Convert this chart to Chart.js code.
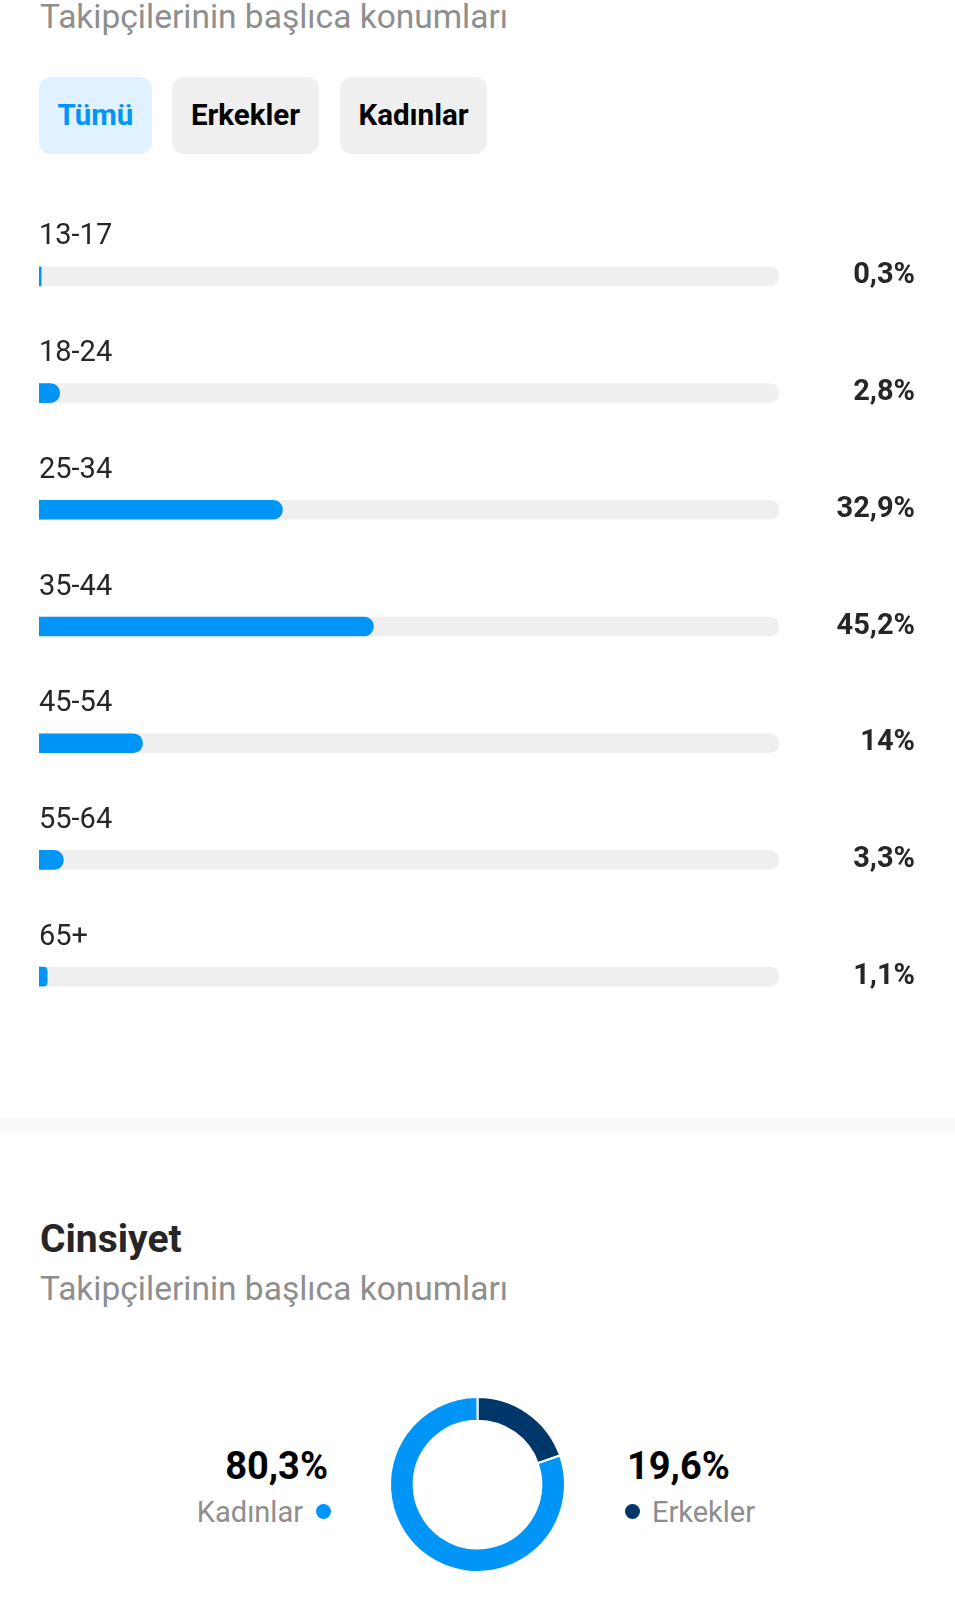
<!DOCTYPE html>
<html>
<head>
<meta charset="utf-8">
<script src="https://cdn.jsdelivr.net/npm/chart.js@4/dist/chart.umd.min.js"></script>
<style>
  html, body { margin: 0; padding: 0; background: #fff; }
  body { width: 955px; height: 1600px; position: relative; overflow: hidden; font-family: Roboto, "Noto Sans", sans-serif; }
  .abs { position: absolute; white-space: nowrap; }
  .sub { font-size: 33.5px; line-height: 33px; color: #8e8e8e; left: 40px; }
  .btn { top: 77px; height: 77px; border-radius: 12px; background: #efefef; color: #000;
         font-weight: bold; font-size: 29.5px; line-height: 77px; text-align: center; }
  .btn.on { background: #e0f1ff; color: #0095f6; }
  .big { font-size: 38px; font-weight: bold; color: #000; line-height: 38px; }
  .name { font-size: 29px; color: #8e8e8e; line-height: 29px; }
</style>
</head>
<body>
<div class="abs sub" style="top:0px">Takipçilerinin başlıca konumları</div>
<div id="tabs"></div>

<canvas id="ageChart" class="abs" width="955" height="860" style="left:0;top:200px;width:955px;height:860px"></canvas>

<div class="abs" style="left:0;top:1118px;width:955px;height:15px;background:#fafafa"></div>

<div class="abs" style="left:40px;top:1220px;font-size:39px;line-height:39px;font-weight:bold;color:#262626">Cinsiyet</div>
<div class="abs sub" style="top:1272px">Takipçilerinin başlıca konumları</div>

<canvas id="genderChart" class="abs" width="185" height="185" style="left:385px;top:1392px;width:185px;height:185px"></canvas>
<div id="genderText"></div>

<script>
// tabs
const tabNames = ["Tümü", "Erkekler", "Kadınlar"];
const tabLeft = [39, 172, 340];
const tabWidth = [113, 147, 147];

// age groups
const ageLabels = ["13-17", "18-24", "25-34", "35-44", "45-54", "55-64", "65+"];
const ageValues = [0.3, 2.8, 32.9, 45.2, 14, 3.3, 1.1];
const ageTrack = [100, 100, 100, 100, 100, 100, 100];

// gender
const genderLabels = ["Erkekler", "Kadınlar"];
const genderValues = [19.6, 80.3];
const genderColors = ["#00376b", "#0095f6"];

function pct(v) {
  return String(v).replace(".", ",") + "%";
}

let tabs = document.getElementById("tabs");
tabNames.forEach(function (t, i) {
  let d = document.createElement("div");
  d.className = "abs btn" + (i == 0 ? " on" : "");
  d.style.left = tabLeft[i] + "px";
  d.style.width = tabWidth[i] + "px";
  d.textContent = t;
  tabs.appendChild(d);
});

// labels above bars and values on the right
const ageText = {
  id: "ageText",
  afterDatasetsDraw(chart) {
    const ctx = chart.ctx;
    const y = chart.scales.y;
    const left = chart.chartArea.left;
    ctx.save();
    ctx.textBaseline = "alphabetic";
    ageLabels.forEach(function (lab, i) {
      let cy = y.getPixelForValue(i);
      ctx.font = "29px Roboto";
      ctx.fillStyle = "#262626";
      ctx.textAlign = "left";
      ctx.fillText(lab, left, cy - 32);
      ctx.font = "bold 29px Roboto";
      ctx.textAlign = "right";
      ctx.fillText(pct(ageValues[i]), 915, cy + 7);
    });
    ctx.restore();
  }
};

new Chart(document.getElementById("ageChart"), {
  type: "bar",
  data: {
    labels: ageLabels,
    datasets: [
      {
        data: ageValues,
        backgroundColor: "#0095f6",
        borderRadius: 10,
        barThickness: 19,
        order: 0
      },
      {
        data: ageTrack,
        backgroundColor: "#efefef",
        borderRadius: 10,
        barThickness: 19,
        order: 1
      }
    ]
  },
  options: {
    indexAxis: "y",
    responsive: false,
    animation: false,
    devicePixelRatio: 1,
    layout: { padding: { left: 39, right: 176, top: 18, bottom: 25 } },
    datasets: { bar: { grouped: false } },
    scales: {
      x: { display: false, min: 0, max: 100 },
      y: { display: false }
    },
    plugins: { legend: { display: false }, tooltip: { enabled: false } }
  },
  plugins: [ageText]
});

new Chart(document.getElementById("genderChart"), {
  type: "doughnut",
  data: {
    labels: genderLabels,
    datasets: [{
      data: genderValues,
      backgroundColor: genderColors,
      borderColor: "#fff",
      borderWidth: 2
    }]
  },
  options: {
    responsive: false,
    animation: false,
    devicePixelRatio: 1,
    cutout: "73%",
    layout: { padding: 4 },
    plugins: { legend: { display: false }, tooltip: { enabled: false } }
  }
});

// side texts of the doughnut: women on the left, men on the right
let gt = document.getElementById("genderText");
function addText(html, style) {
  let d = document.createElement("div");
  d.className = "abs";
  d.setAttribute("style", style);
  d.innerHTML = html;
  gt.appendChild(d);
}
addText('<span class="big">' + pct(genderValues[1]) + '</span>', "right:627px;top:1447px;text-align:right");
addText('<span class="name">' + genderLabels[1] + '</span>', "right:652px;top:1498px;text-align:right");
addText('', "left:316px;top:1504px;width:15px;height:15px;border-radius:50%;background:" + genderColors[1]);
addText('<span class="big">' + pct(genderValues[0]) + '</span>', "left:627px;top:1447px");
addText('<span class="name">' + genderLabels[0] + '</span>', "left:652px;top:1498px");
addText('', "left:625px;top:1504px;width:15px;height:15px;border-radius:50%;background:" + genderColors[0]);
</script>
</body>
</html>
